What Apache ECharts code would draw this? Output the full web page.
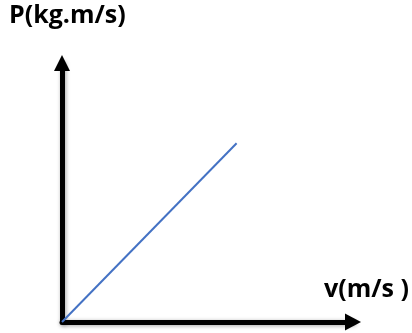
<!DOCTYPE html>
<html>
<head>
<meta charset="utf-8">
<script src="https://cdn.jsdelivr.net/npm/echarts@6/dist/echarts.min.js"></script>
<style>
  html, body { margin: 0; padding: 0; background: #ffffff; }
  #chart { width: 412px; height: 333px; }
</style>
</head>
<body>
<div id="chart"></div>
<script>
// Momentum P grows linearly with velocity v
const velocity = [0, 6];
const momentum = [0, 6.9];
const xName = 'v(m/s )';
const yName = 'P(kg.m/s)';

const points = velocity.map((v, i) => [v, momentum[i]]);

const axisLineStyle = {
  color: '#000000',
  width: 5,
  shadowColor: 'rgba(0,0,0,0.35)',
  shadowBlur: 4,
  shadowOffsetX: 1,
  shadowOffsetY: 1
};

const labelFont = { fontFamily: 'Open Sans', fontWeight: 'bold', fontSize: 25, color: '#000000' };

const chart = echarts.init(document.getElementById('chart'), null, { renderer: 'canvas' });
chart.setOption({
  backgroundColor: '#ffffff',
  animation: false,
  title: [
    { text: yName, left: 9, top: 3, padding: 0, textStyle: labelFont },
    { text: xName, left: 324, top: 277, padding: 0, textStyle: labelFont }
  ],
  grid: { left: 62, right: 59, top: 63, bottom: 11, containLabel: false },
  xAxis: {
    type: 'value', min: 0, max: 10,
    axisLine: { show: true, onZero: false, symbol: ['none', 'triangle'], symbolSize: [17, 16], lineStyle: axisLineStyle },
    axisTick: { show: false }, axisLabel: { show: false }, splitLine: { show: false }
  },
  yAxis: {
    type: 'value', min: 0, max: 10,
    axisLine: { show: true, onZero: false, symbol: ['none', 'triangle'], symbolSize: [16, 16], lineStyle: axisLineStyle },
    axisTick: { show: false }, axisLabel: { show: false }, splitLine: { show: false }
  },
  series: [{
    type: 'line',
    data: points,
    symbol: 'none',
    lineStyle: { color: '#4472C4', width: 2 },
    z: 1
  }]
});
</script>
</body>
</html>
